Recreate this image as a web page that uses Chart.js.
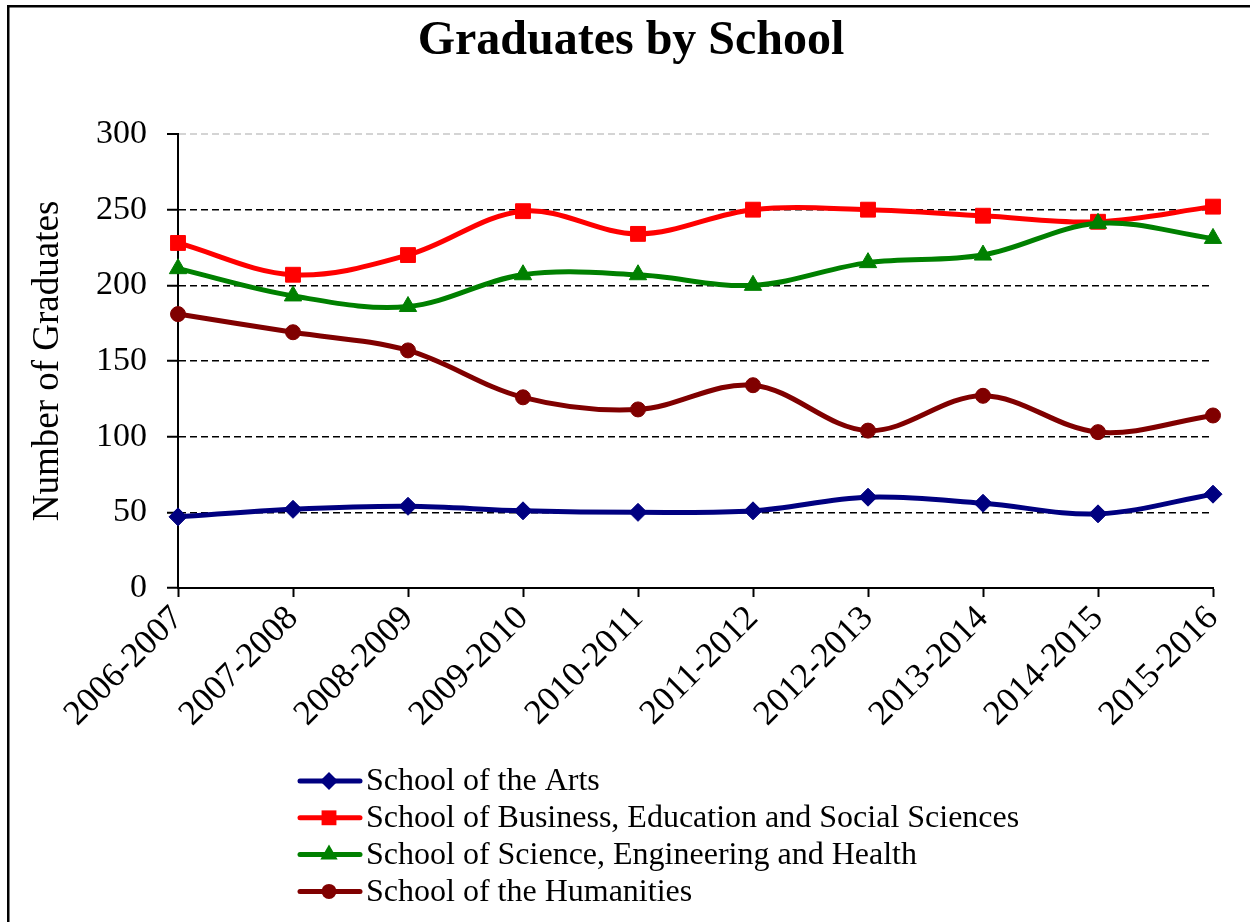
<!DOCTYPE html>
<html>
<head>
<meta charset="utf-8">
<script src="https://cdn.jsdelivr.net/npm/chart.js@4/dist/chart.umd.min.js"></script>
<style>
  html, body { margin: 0; padding: 0; background: #ffffff; }
  #wrap { width: 1250px; height: 922px; position: relative; }
</style>
</head>
<body>
<div id="wrap"><canvas id="c" width="1250" height="922"></canvas></div>
<script>
// ---- data ----
const categories = ["2006-2007","2007-2008","2008-2009","2009-2010","2010-2011","2011-2012","2012-2013","2013-2014","2014-2015","2015-2016"];
const seriesNames = ["School of the Arts","School of Business, Education and Social Sciences","School of Science, Engineering and Health","School of the Humanities"];
const artsValues = [47, 52, 54, 51, 50, 51, 60, 56, 49, 62];
const businessValues = [228, 207, 220, 249, 234, 250, 250, 246, 242, 252];
const scienceValues = [211, 193, 186, 207, 207, 200, 215, 220, 241, 231];
const humanitiesValues = [181, 169, 157, 126, 118, 134, 104, 127, 103, 114];
const yTicks = [0, 50, 100, 150, 200, 250, 300];

const SERIF = "'Liberation Serif', 'Times New Roman', serif";
const colors = ['#000080', '#FF0000', '#008000', '#800000'];
const shapes = ['rectRot', 'rect', 'triangle', 'circle'];
const radii = [9, 10.5, 10, 7.5];
const values = [artsValues, businessValues, scienceValues, humanitiesValues];

function drawMarker(ctx, shape, x, y, r, color) {
  ctx.save();
  ctx.fillStyle = color;
  ctx.beginPath();
  if (shape === 'circle') {
    ctx.arc(x, y, r, 0, Math.PI * 2);
  } else if (shape === 'rect') {
    const s = r * Math.SQRT1_2;
    ctx.rect(x - s, y - s, 2 * s, 2 * s);
  } else if (shape === 'rectRot') {
    ctx.moveTo(x, y - r); ctx.lineTo(x + r, y); ctx.lineTo(x, y + r); ctx.lineTo(x - r, y);
    ctx.closePath();
  } else if (shape === 'triangle') {
    ctx.moveTo(x, y - r);
    ctx.lineTo(x + r * Math.sin(2 * Math.PI / 3), y - r * Math.cos(2 * Math.PI / 3));
    ctx.lineTo(x + r * Math.sin(4 * Math.PI / 3), y - r * Math.cos(4 * Math.PI / 3));
    ctx.closePath();
  }
  ctx.fill();
  ctx.restore();
}

const decorPlugin = {
  id: 'decor',
  beforeDraw(chart) {
    const ctx = chart.ctx;
    ctx.save();
    ctx.fillStyle = '#ffffff';
    ctx.fillRect(0, 0, chart.width, chart.height);
    ctx.strokeStyle = '#000000';
    ctx.lineWidth = 2.5;
    ctx.beginPath();
    ctx.moveTo(8.25, chart.height);
    ctx.lineTo(8.25, 6.25);
    ctx.lineTo(chart.width, 6.25);
    ctx.stroke();
    // title
    ctx.fillStyle = '#000000';
    ctx.font = "bold 48px " + SERIF;
    ctx.textAlign = 'center';
    ctx.textBaseline = 'middle';
    ctx.fillText('Graduates by School', 631, 42);
    ctx.restore();
  },
  afterDraw(chart) {
    const ctx = chart.ctx;
    ctx.save();
    chart.data.datasets.forEach((ds, i) => {
      const y = 781 + i * 36.8;
      ctx.strokeStyle = ds.borderColor;
      ctx.lineWidth = 5;
      ctx.lineCap = 'round';
      ctx.beginPath();
      ctx.moveTo(300, y);
      ctx.lineTo(360, y);
      ctx.stroke();
      drawMarker(ctx, ds.pointStyle, 329, y, ds.pointRadius, ds.borderColor);
      ctx.fillStyle = '#000000';
      ctx.font = "32px " + SERIF;
      ctx.textAlign = 'left';
      ctx.textBaseline = 'middle';
      ctx.fillText(ds.label, 366, y + 1);
    });
    ctx.restore();
  }
};

const datasets = seriesNames.map((name, i) => ({
  label: name,
  data: values[i],
  borderColor: colors[i],
  backgroundColor: colors[i],
  borderWidth: 5,
  pointStyle: shapes[i],
  pointRadius: radii[i],
  pointHoverRadius: radii[i],
  pointBorderWidth: 1,
  pointBackgroundColor: colors[i],
  pointBorderColor: colors[i],
  tension: 0.35,
  clip: false,
  order: 4 - i
}));

new Chart(document.getElementById('c'), {
  type: 'line',
  data: { labels: categories, datasets },
  plugins: [decorPlugin],
  options: {
    responsive: false,
    animation: false,
    devicePixelRatio: 1,
    layout: { padding: { left: 10, right: 37, top: 134, bottom: 0 } },
    plugins: {
      legend: { display: false },
      title: { display: false },
      tooltip: { enabled: false }
    },
    scales: {
      x: {
        type: 'category',
        offset: false,
        afterFit(scale) { scale.height = 922 - 588; },
        grid: {
          display: true,
          drawOnChartArea: false,
          drawTicks: true,
          tickLength: 9,
          tickColor: '#000000',
          tickWidth: 2,
          color: '#000000'
        },
        border: { display: true, color: '#000000', width: 2 },
        ticks: {
          autoSkip: false,
          maxRotation: 45,
          minRotation: 45,
          padding: 1,
          color: '#000000',
          font: { family: SERIF, size: 35 }
        }
      },
      y: {
        min: 0,
        max: 300,
        afterFit(scale) { scale.width = 178 - 10; },
        afterBuildTicks(scale) { scale.ticks = yTicks.map(v => ({ value: v })); },
        grid: {
          display: true,
          drawOnChartArea: true,
          drawTicks: true,
          tickLength: 11,
          tickWidth: 2,
          tickColor: '#000000',
          lineWidth: (c) => (c.tick && c.tick.value === 300 ? 2 : 1.5),
          color: (c) => {
            if (!c.tick) return '#000000';
            if (c.tick.value === 0) return 'rgba(0,0,0,0)';
            if (c.tick.value === 300) return '#d4d4d4';
            return '#000000';
          }
        },
        border: { display: true, color: '#000000', width: 2, dash: [7, 4] },
        ticks: {
          padding: 20,
          color: '#000000',
          font: { family: SERIF, size: 34 }
        },
        title: {
          display: true,
          text: 'Number of Graduates',
          color: '#000000',
          font: { family: SERIF, size: 37 },
          padding: { top: 16, bottom: 0 }
        }
      }
    }
  }
});
</script>
</body>
</html>
